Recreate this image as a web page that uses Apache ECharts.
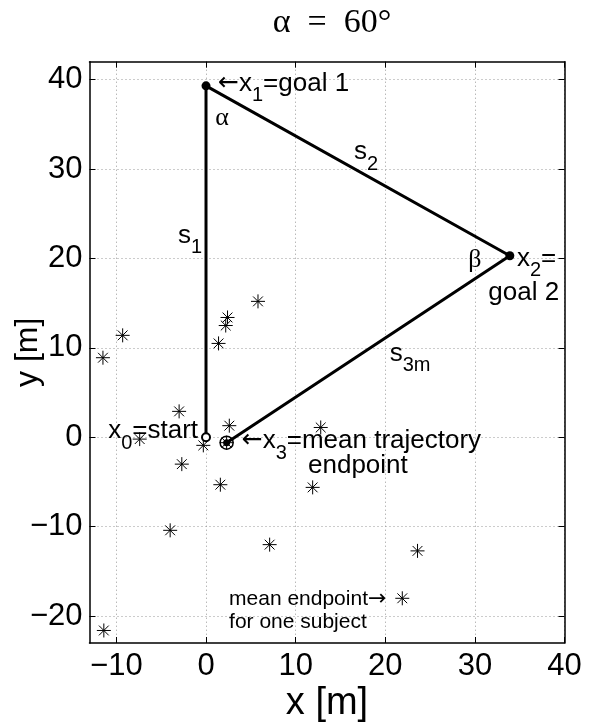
<!DOCTYPE html>
<html><head><meta charset="utf-8">
<script src="https://cdn.jsdelivr.net/npm/echarts@6/dist/echarts.min.js"></script>
<style>html,body{margin:0;padding:0;background:#fff}#c{width:596px;height:722px}</style>
</head><body><div id="c"></div>
<script>
// ---- data ----
const titleText = 'α = 60°';
const xTicks = [-10, 0, 10, 20, 30, 40];
const yTicks = [-20, -10, 0, 10, 20, 30, 40];
// path x0 -> x1 -> x2 -> x3
const pathX = [0, 0, 33.9, 2.3];
const pathY = [0, 39.3, 20.3, -0.6];
// mean endpoints of individual subjects
const starX = [-11.5, -9.3, -3.0, -7.4, -0.3, 1.4, 2.2, 2.4, 5.8, 2.6, 12.8, -2.7, 1.6, 11.9, -4.0, 7.1, -11.4, 23.6, 21.9, 2.3];
const starY = [8.9, 11.4, 2.9, -0.2, -0.9, 10.5, 12.5, 13.4, 15.2, 1.3, 1.1, -3.0, -5.3, -5.6, -10.4, -12.0, -21.6, -12.7, -18.0, -0.6];
// annotations
const annoText = [
  '{a|←}{t|x}{sub|1}{t|=goal 1}',
  '{g|α}',
  '{t|s}{sub|2}',
  '{t|s}{sub|1}',
  '{g|β}',
  '{t|x}{sub|2}{t|=}',
  '{t|goal 2}',
  '{t|s}{sub|3m}',
  '{t|x}{sub|0}{t|=start}',
  '{a|←}{t|x}{sub|3}{t|=mean trajectory}',
  '{t|endpoint}',
  '{s|mean endpoint}{sa|→}',
  '{s|for one subject}'
];
const annoX = [1.34, 1.8, 16.5, -3.12, 30.0, 34.7, 31.5, 20.5, -0.89, 3.98, 11.38, 2.57, 2.57];
const annoY = [40.97, 35.7, 33.33, 24.0, 19.8, 21.4, 17.6, 10.78, 2.13, 1.01, -1.74, -16.85, -19.45];
const annoAlign = ['left', 'center', 'left', 'left', 'center', 'left', 'left', 'left', 'right', 'left', 'left', 'left', 'left'];
const annoVAlign = ['top', 'middle', 'top', 'top', 'middle', 'top', 'top', 'top', 'top', 'top', 'top', 'top', 'top'];

// ---- chart ----
const SANS = 'Liberation Sans';
const STAR = 'path://M10 0L10 20M0 10L20 10M3 3L17 17M3 17L17 3';
const chart = echarts.init(document.getElementById('c'), null, {renderer: 'canvas'});

function xAx(pos, main) {
  return {
    type: 'value', min: -13, max: 40, position: pos,
    axisLine: {show: true, onZero: false, lineStyle: {color: '#000', width: 1.5}},
    axisTick: {show: true, inside: true, length: 6, customValues: xTicks, lineStyle: {color: '#000', width: 1}},
    axisLabel: {show: main, customValues: xTicks, fontSize: 31, fontFamily: SANS, color: '#000', margin: 8,
      formatter: v => String(v).replace('-', '−')},
    splitLine: {show: main, lineStyle: {type: [1, 3], color: '#999', width: 1}},
    name: main ? 'x [m]' : '', nameLocation: 'middle', nameGap: 42, nameMoveOverlap: false,
    nameTextStyle: {fontSize: 38, fontFamily: SANS, color: '#000'}
  };
}
function yAx(pos, main) {
  return {
    type: 'value', min: -23, max: 42, position: pos,
    axisLine: {show: true, onZero: false, lineStyle: {color: '#000', width: 1.5}},
    axisTick: {show: true, inside: true, length: 6, customValues: yTicks, lineStyle: {color: '#000', width: 1}},
    axisLabel: {show: main, customValues: yTicks, fontSize: 31, fontFamily: SANS, color: '#000', margin: 7,
      formatter: v => String(v).replace('-', '−')},
    splitLine: {show: main, lineStyle: {type: [1, 3], color: '#999', width: 1}},
    name: main ? 'y [m]' : '', nameLocation: 'middle', nameGap: 45, nameMoveOverlap: false,
    nameTextStyle: {fontSize: 32, fontFamily: SANS, color: '#000'}
  };
}

const pathData = pathX.map((x, i) => [x, pathY[i]]);
const starData = starX.map((x, i) => [x, starY[i]]);
const annoData = annoText.map((t, i) => ({
  value: [annoX[i], annoY[i]],
  label: {formatter: t, align: annoAlign[i], verticalAlign: annoVAlign[i]}
}));

const option = {
  animation: false,
  backgroundColor: '#fff',
  title: {
    text: titleText.replace(/ /g, '\u2002'), left: 327, top: 1, textAlign: 'center',
    textStyle: {fontFamily: 'Liberation Serif', fontSize: 34, fontWeight: 'normal', color: '#000'}
  },
  grid: {left: 89.5, right: 31.5, top: 61.7, bottom: 79, containLabel: false, outerBoundsMode: 'none'},
  xAxis: [xAx('bottom', true), xAx('top', false)],
  yAxis: [yAx('left', true), yAx('right', false)],
  series: [
    {type: 'scatter', data: starData, symbol: STAR, symbolSize: 14, z: 2,
      itemStyle: {color: 'transparent', borderColor: '#000', borderWidth: 1, opacity: 1}},
    {type: 'line', data: pathData, symbol: 'none', z: 3,
      lineStyle: {color: '#000', width: 3}},
    {type: 'scatter', data: [pathData[1], pathData[2]], symbol: 'circle', symbolSize: 9, z: 4,
      itemStyle: {color: '#000', opacity: 1}},
    {type: 'scatter', data: [pathData[0]], symbol: 'circle', symbolSize: 8, z: 4,
      itemStyle: {color: '#fff', borderColor: '#000', borderWidth: 2, opacity: 1}},
    {type: 'scatter', data: [pathData[3]], symbol: 'circle', symbolSize: 13, z: 4,
      itemStyle: {color: 'transparent', borderColor: '#000', borderWidth: 1.5, opacity: 1}},
    {type: 'scatter', data: [pathData[3]], symbol: 'circle', symbolSize: 7, z: 4,
      itemStyle: {color: '#000', opacity: 1}},
    {type: 'scatter', data: annoData, symbolSize: 0, z: 6, silent: true,
      itemStyle: {opacity: 1},
      label: {show: true, position: [0, 0], color: '#000', opacity: 1,
        rich: {
          t: {fontSize: 26, fontFamily: SANS, color: '#000', lineHeight: 28, verticalAlign: 'top'},
          a: {fontSize: 25, fontFamily: 'DejaVu Sans', color: '#000', lineHeight: 28, verticalAlign: 'top'},
          sub: {fontSize: 20, fontFamily: SANS, color: '#000', lineHeight: 22, padding: [15, 0, 0, 0], verticalAlign: 'top'},
          g: {fontSize: 26, fontFamily: 'Liberation Serif', color: '#000', lineHeight: 28},
          s: {fontSize: 21, fontFamily: SANS, color: '#000', lineHeight: 22},
          sa: {fontSize: 22, fontFamily: 'DejaVu Sans', color: '#000', lineHeight: 22}
        }}}
  ]
};
chart.setOption(option);
</script>
</body></html>
